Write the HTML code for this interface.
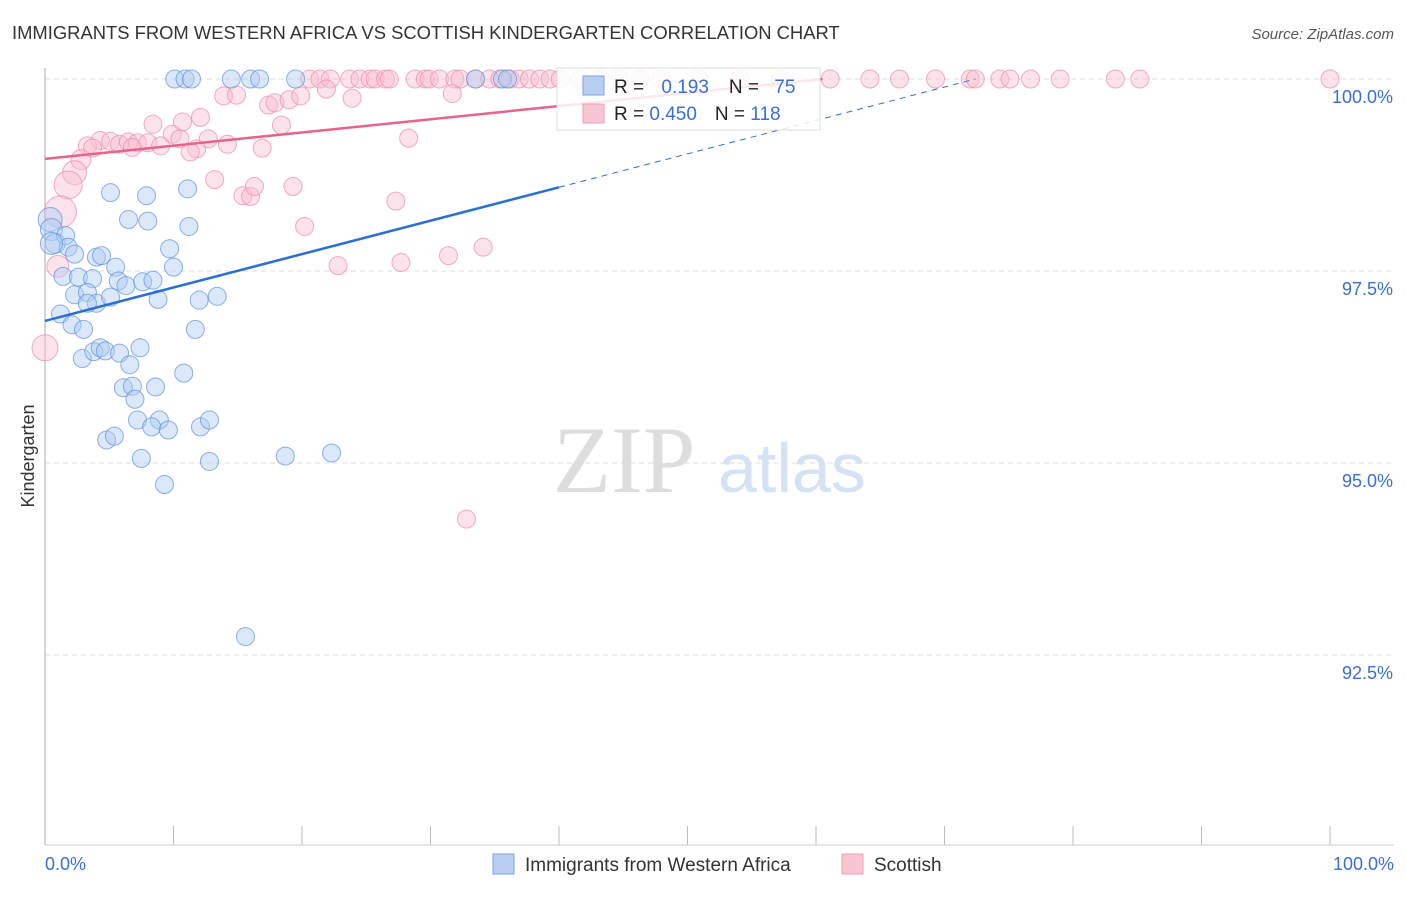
<!DOCTYPE html>
<html><head><meta charset="utf-8"><style>
body{margin:0;background:#fff;font-family:"Liberation Sans",sans-serif}
</style></head><body>
<svg width="1406" height="892" xmlns="http://www.w3.org/2000/svg" id="chart">
<text x="12" y="39" font-size="18.4" fill="#333">IMMIGRANTS FROM WESTERN AFRICA VS SCOTTISH KINDERGARTEN CORRELATION CHART</text>
<text x="1394" y="39" font-size="15" fill="#555" font-style="italic" text-anchor="end">Source: ZipAtlas.com</text>
<g id="grid"></g>
<line x1="45" y1="68" x2="45" y2="845" stroke="#aaa"/>
<line x1="45" y1="845" x2="1394" y2="845" stroke="#ccc"/>
<text x="553" y="492" font-size="95" fill="#ddd" font-family="Liberation Serif,serif">ZIP</text>
<text x="718" y="492" font-size="70" fill="#d4e2f4">atlas</text>
<text x="34" y="456" font-size="18" fill="#333" transform="rotate(-90 34 456)" text-anchor="middle">Kindergarten</text>
<text x="45" y="870" font-size="18" fill="#3a6fd0">0.0%</text>
<text x="1394" y="870" font-size="18" fill="#3a6fd0" text-anchor="end">100.0%</text>
<g id="marks"></g>
<g id="lines"></g>
<g>
<rect x="557" y="68" width="263" height="62" fill="#fff" fill-opacity="0.85" stroke="#ddd"/>
<rect x="583" y="76" width="21" height="19" fill="#b8cff2" stroke="#7ba0e0"/>
<rect x="583" y="104" width="21" height="19" fill="#f8c5d3" stroke="#ef9db5"/>
<text x="614" y="93" font-size="19" fill="#222">R = <tspan fill="#3a6fd0" dx="12">0.193</tspan><tspan dx="20">N = </tspan><tspan fill="#3a6fd0" dx="10">75</tspan></text>
<text x="614" y="120" font-size="19" fill="#222">R = <tspan fill="#3a6fd0">0.450</tspan><tspan dx="18">N = </tspan><tspan fill="#3a6fd0">118</tspan></text>
</g>
<g>
<rect x="493" y="854" width="21" height="20" fill="#b8cff2" stroke="#7ba0e0"/>
<text x="525" y="871" font-size="19" fill="#333">Immigrants from Western Africa</text>
<rect x="842" y="854" width="21" height="20" fill="#f8c5d3" stroke="#ef9db5"/>
<text x="874" y="871" font-size="19" fill="#333">Scottish</text>
</g>
</svg>
<script>
const yTicks=[100,97.5,95,92.5];
const yTickLabels=["100.0%","97.5%","95.0%","92.5%"];
const blueX=[10.1,10.9,11.4,14.5,16.0,16.7,19.5,33.5,35.6,36.0,5.1,7.9,11.1,6.5,8.0,11.2,0.4,0.5,0.8,1.6,1.8,2.3,4.0,4.4,9.7,5.5,10.0,1.4,2.6,3.7,5.7,6.3,7.6,8.4,2.3,3.3,4.0,3.3,5.1,8.8,12.0,13.4,1.2,2.1,3.0,11.7,2.9,3.8,4.3,4.7,5.8,7.4,6.6,10.8,6.1,6.8,8.6,7.0,7.2,8.9,8.3,9.6,12.1,12.8,4.8,5.4,7.5,12.8,18.7,22.3,9.3,15.6,0.5];
const blueY=[100,100,100,100,100,100,100,100,100,100,98.52,98.48,98.57,98.17,98.15,98.08,98.17,98.04,97.86,97.96,97.81,97.72,97.68,97.7,97.79,97.55,97.55,97.43,97.42,97.4,97.37,97.31,97.36,97.38,97.19,97.22,97.08,97.08,97.16,97.13,97.12,97.17,96.94,96.8,96.74,96.74,96.36,96.45,96.5,96.46,96.43,96.5,96.28,96.17,95.98,96.0,95.99,95.83,95.56,95.56,95.47,95.43,95.47,95.56,95.3,95.35,95.06,95.02,95.09,95.13,94.72,92.74,97.86];
const blueR=[9,9,9,9,9,9,9,9,9,9,9,9,9,9,9,9,12,11,10,9,9,9,9,9,9,9,9,9,9,9,9,9,9,9,9,9,9,9,9,9,9,9,9,9,9,9,9,9,9,9,9,9,9,9,9,9,9,9,9,9,9,9,9,9,9,9,9,9,9,9,9,9,11];
const pinkX=[20.6,21.4,22.2,23.7,24.5,25.3,25.7,26.5,26.8,28.8,29.6,29.9,30.7,31.9,32.3,33.5,34.6,35.4,36.2,36.9,37.7,38.5,39.3,40.1,41.6,43.2,44.7,46.3,47.9,50.9,54.1,57.2,61.1,64.2,66.5,69.3,72.0,72.4,74.3,75.1,76.7,79.0,83.3,85.2,100,
13.9,14.9,17.4,17.9,19.0,19.9,21.9,23.9,31.7,8.4,10.7,12.1,18.4,9.9,4.3,5.1,5.8,6.5,3.3,3.7,7.2,8.0,9.0,10.5,12.7,11.8,14.2,16.9,6.8,11.3,28.3,2.8,2.3,1.8,1.2,13.2,15.4,16.0,16.3,19.3,27.3,20.2,22.8,27.7,31.4,34.1,0,1.0,32.8];
const pinkY=[100,100,100,100,100,100,100,100,100,100,100,100,100,100,100,100,100,100,100,100,100,100,100,100,100,100,100,100,100,100,100,100,100,100,100,100,100,100,100,100,100,100,100,100,100,
99.78,99.79,99.66,99.69,99.73,99.78,99.87,99.75,99.81,99.41,99.44,99.5,99.4,99.28,99.2,99.19,99.15,99.18,99.13,99.1,99.17,99.17,99.13,99.22,99.22,99.09,99.15,99.1,99.11,99.05,99.23,98.95,98.78,98.62,98.27,98.69,98.48,98.47,98.6,98.6,98.41,98.08,97.57,97.61,97.7,97.81,96.5,97.56,94.27];
const pinkR=[9,9,9,9,9,9,9,9,9,9,9,9,9,9,9,9,9,9,9,9,9,9,9,9,9,9,9,9,9,9,9,9,9,9,9,9,9,9,9,9,9,9,9,9,9,
9,9,9,9,9,9,9,9,9,9,9,9,9,9,9,9,9,9,9,9,9,9,9,9,9,9,9,9,9,9,9,10,12,14,16,9,9,9,9,9,9,9,9,9,9,9,13,11,9];
const blueTrend=[[0,96.85],[40,98.59]];
const blueDash=[[40,98.59],[72.4,100]];
const pinkTrend=[[0,98.96],[60.5,100]];
const X=v=>45+v*12.85, Y=v=>79+(100-v)*76.8;
const NS="http://www.w3.org/2000/svg";
const grid=document.getElementById('grid'),marks=document.getElementById('marks'),lines=document.getElementById('lines');
yTicks.forEach((t,i)=>{
 const l=document.createElementNS(NS,'line');
 l.setAttribute('x1',45);l.setAttribute('x2',1394);l.setAttribute('y1',Y(t));l.setAttribute('y2',Y(t));
 l.setAttribute('stroke','#ddd');l.setAttribute('stroke-dasharray','5,4');
 
 
 grid.appendChild(l);
 const tx=document.createElementNS(NS,'text');
 tx.setAttribute('x',1393);tx.setAttribute('y',Y(t)+24);tx.setAttribute('text-anchor','end');
 tx.setAttribute('font-size','18');tx.setAttribute('fill','#3a6fd0');tx.textContent=yTickLabels[i];
 
 
 grid.appendChild(tx);
});
for(let i=0;i<=10;i++){
 const l=document.createElementNS(NS,'line');
 const x=X(i*10);l.setAttribute('x1',x);l.setAttribute('x2',x);l.setAttribute('y1',826);l.setAttribute('y2',845);
 l.setAttribute('stroke','#bbb');
 
 
 grid.appendChild(l);
}
function dots(xs,ys,rs,fill,stroke,name){
 xs.forEach((v,i)=>{
  const c=document.createElementNS(NS,'circle');
  c.setAttribute('cx',X(v));c.setAttribute('cy',Y(ys[i]));c.setAttribute('r',rs[i]||9);
  c.setAttribute('fill',fill);c.setAttribute('fill-opacity','0.45');c.setAttribute('stroke',stroke);c.setAttribute('stroke-opacity','0.7');
  
  
  marks.appendChild(c);
 });
}
dots(pinkX,pinkY,pinkR,'#f8bfd0','#ec8aa8','scottish-point');
dots(blueX,blueY,blueR,'#b0ccf2','#5b8fe0','western-africa-point');
function ln(p,col,w,dash,name){
 const l=document.createElementNS(NS,'line');
 l.setAttribute('x1',X(p[0][0]));l.setAttribute('y1',Y(p[0][1]));l.setAttribute('x2',X(p[1][0]));l.setAttribute('y2',Y(p[1][1]));
 l.setAttribute('stroke',col);l.setAttribute('stroke-width',w);if(dash)l.setAttribute('stroke-dasharray',dash);
 
 
 lines.appendChild(l);
}
ln(pinkTrend,'#e8628a',2.5,null,'scottish-trendline');
ln(blueTrend,'#2a6fd6',2.5,null,'western-africa-trendline');
ln(blueDash,'#2a6fd6',1,'6,5','western-africa-trendline-extension');
</script>
</body></html>
